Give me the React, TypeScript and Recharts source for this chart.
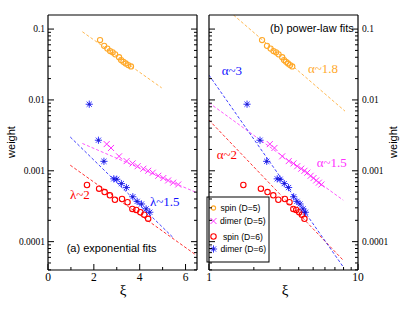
import { ComposedChart, Scatter, Line, XAxis, YAxis } from "recharts";

// weight vs correlation length
const spinD5 = [
  { x: 2.27, y: 0.07 },
  { x: 2.45, y: 0.058 },
  { x: 2.59, y: 0.053 },
  { x: 2.71, y: 0.049 },
  { x: 2.82, y: 0.047 },
  { x: 2.93, y: 0.044 },
  { x: 3.1, y: 0.04 },
  { x: 3.19, y: 0.0365 },
  { x: 3.29, y: 0.0345 },
  { x: 3.39, y: 0.0327 },
  { x: 3.5, y: 0.031 },
  { x: 3.62, y: 0.0297 },
];

const dimerD5 = [
  { x: 2.56, y: 0.00238 },
  { x: 2.75, y: 0.0021 },
  { x: 3.1, y: 0.0016 },
  { x: 3.43, y: 0.00137 },
  { x: 3.69, y: 0.00127 },
  { x: 3.91, y: 0.00116 },
  { x: 4.16, y: 0.00107 },
  { x: 4.37, y: 0.001 },
  { x: 4.57, y: 0.00094 },
  { x: 4.81, y: 0.00085 },
  { x: 5.03, y: 0.00079 },
  { x: 5.24, y: 0.00073 },
  { x: 5.46, y: 0.00068 },
  { x: 5.68, y: 0.00064 },
];

const spinD6 = [
  { x: 1.7, y: 0.00063 },
  { x: 2.23, y: 0.00056 },
  { x: 2.47, y: 0.0005 },
  { x: 2.7, y: 0.00045 },
  { x: 2.92, y: 0.00039 },
  { x: 3.23, y: 0.0004 },
  { x: 3.47, y: 0.00036 },
  { x: 3.68, y: 0.00029 },
  { x: 3.85, y: 0.00028 },
  { x: 4.03, y: 0.00026 },
  { x: 4.2, y: 0.00024 },
  { x: 4.37, y: 0.00021 },
];

const dimerD6 = [
  { x: 1.8, y: 0.0087 },
  { x: 2.2, y: 0.0027 },
  { x: 2.44, y: 0.00136 },
  { x: 2.87, y: 0.00077 },
  { x: 3.0, y: 0.00076 },
  { x: 3.2, y: 0.00066 },
  { x: 3.42, y: 0.00058 },
  { x: 3.7, y: 0.00043 },
  { x: 3.89, y: 0.00037 },
  { x: 4.08, y: 0.00034 },
  { x: 4.28, y: 0.00029 },
  { x: 4.44, y: 0.00026 },
];

// fit lines, end points only
const expFitSpinD5 = [{ x: 1.5, y: 0.0916 }, { x: 4.96, y: 0.0148 }];
const expFitDimerD5 = [{ x: 1.5, y: 0.00243 }, { x: 6.43, y: 0.0005 }];
const expFitSpinD6 = [{ x: 0.97, y: 0.0012 }, { x: 6.48, y: 0.000064 }];
const expFitDimerD6 = [{ x: 0.97, y: 0.003 }, { x: 5.46, y: 0.000114 }];

const powFitSpinD5 = [{ x: 1.46, y: 0.158 }, { x: 8.18, y: 0.00695 }];
const powFitDimerD5 = [{ x: 1.0, y: 0.0091 }, { x: 7.96, y: 0.000385 }];
const powFitSpinD6 = [{ x: 1.0, y: 0.00519 }, { x: 7.96, y: 0.0000546 }];
const powFitDimerD6 = [{ x: 1.0, y: 0.0224 }, { x: 7.96, y: 0.000044 }];

const Y_DOMAIN = [0.0000398, 0.158];
const Y_MAJOR = [0.0001, 0.001, 0.01, 0.1];
const Y_MAJOR_LABELS = ["0.0001", "0.001", "0.01", "0.1"];
const Y_TICKS = [0.00001, 0.0001, 0.001, 0.01, 0.1]
  .flatMap((d) => [1, 2, 3, 4, 5, 6, 7, 8, 9].map((m) => d * m))
  .filter((v) => v >= Y_DOMAIN[0] && v <= Y_DOMAIN[1]);

const XA_DOMAIN = [0, 6.5];
const XA_TICKS = [0, 1, 2, 3, 4, 5, 6];
const XA_LABELED = [0, 2, 4, 6];

const XB_DOMAIN = [1, 10];
const XB_TICKS = [1, 2, 3, 4, 5, 6, 7, 8, 9, 10];
const XB_LABELED = [1, 10];

const ORANGE = "#FFA828";
const MAGENTA = "#FF30FF";
const RED = "#FF0000";
const BLUE = "#1010FF";

const SERIF = "Liberation Serif";
const SANS = "Liberation Sans";

// frame edges in each chart's own svg coordinates
const TOP = 15;
const BOTTOM = 270;

const isDecade = (v: number) =>
  Math.abs(Math.log10(v) - Math.round(Math.log10(v))) < 1e-6;

function yTick(edge: number, side: "left" | "right", showLabel: boolean) {
  return (props: any) => {
    const v = props.payload.value;
    const y = props.y;
    const major = isDecade(v);
    const len = major ? 6 : 3;
    const dir = side === "left" ? 1 : -1;
    const idx = Y_MAJOR.findIndex((m) => Math.abs(m - v) / m < 1e-6);
    return (
      <g>
        <line x1={edge} x2={edge + dir * len} y1={y} y2={y} stroke="#000" strokeWidth={1} />
        {showLabel && idx >= 0 && (
          <text
            x={side === "left" ? edge - 3 : edge + 4}
            y={y}
            dy="0.35em"
            textAnchor={side === "left" ? "end" : "start"}
            style={{ fontFamily: SERIF, fontSize: 9.5 }}
            fill="#000"
          >
            {Y_MAJOR_LABELS[idx]}
          </text>
        )}
      </g>
    );
  };
}

function xTick(edge: number, side: "top" | "bottom", labeled: number[] | null, majors: number[]) {
  return (props: any) => {
    const v = props.payload.value;
    const x = props.x;
    const len = majors.includes(v) ? 6 : 3;
    const dir = side === "bottom" ? -1 : 1;
    return (
      <g>
        <line x1={x} x2={x} y1={edge} y2={edge + dir * len} stroke="#000" strokeWidth={1} />
        {labeled && labeled.includes(v) && (
          <text x={x} y={edge + 11} textAnchor="middle" style={{ fontFamily: SERIF, fontSize: 11.5 }} fill="#000">
            {v}
          </text>
        )}
      </g>
    );
  };
}

const openCircle = (color: string, r: number) => (p: any) =>
  <circle cx={p.cx} cy={p.cy} r={r} fill="none" stroke={color} strokeWidth={1.1} />;

const cross = (color: string, s: number) => (p: any) => (
  <g stroke={color} strokeWidth={1}>
    <line x1={p.cx - s} y1={p.cy - s} x2={p.cx + s} y2={p.cy + s} />
    <line x1={p.cx - s} y1={p.cy + s} x2={p.cx + s} y2={p.cy - s} />
  </g>
);

const star = (color: string, s: number) => (p: any) => {
  const d = s * 0.72;
  return (
    <g stroke={color} strokeWidth={1} opacity={0.85}>
      <line x1={p.cx - s} y1={p.cy} x2={p.cx + s} y2={p.cy} />
      <line x1={p.cx} y1={p.cy - s} x2={p.cx} y2={p.cy + s} />
      <line x1={p.cx - d} y1={p.cy - d} x2={p.cx + d} y2={p.cy + d} />
      <line x1={p.cx - d} y1={p.cy + d} x2={p.cx + d} y2={p.cy - d} />
      <circle cx={p.cx} cy={p.cy} r={1.3} fill="#0000C0" stroke="none" />
    </g>
  );
};

const SERIES = [
  { name: "spin (D=5)", data: spinD5, color: ORANGE, shape: openCircle(ORANGE, 2.6), legend: openCircle(ORANGE, 2.1) },
  { name: "dimer (D=5)", data: dimerD5, color: MAGENTA, shape: cross(MAGENTA, 3), legend: cross(MAGENTA, 3) },
  { name: "spin (D=6)", data: spinD6, color: RED, shape: openCircle(RED, 2.7), legend: openCircle(RED, 2.7) },
  { name: "dimer (D=6)", data: dimerD6, color: BLUE, shape: star(BLUE, 3.6), legend: star(BLUE, 3.6) },
];

const EXP_FITS = [expFitSpinD5, expFitDimerD5, expFitSpinD6, expFitDimerD6];
const POW_FITS = [powFitSpinD5, powFitDimerD5, powFitSpinD6, powFitDimerD6];

function fitLines(fits: { x: number; y: number }[][]) {
  return fits.map((d, i) => (
    <Line
      key={"fit" + i}
      xAxisId="b"
      yAxisId="l"
      data={d}
      dataKey="y"
      type="linear"
      stroke={SERIES[i].color}
      strokeWidth={1}
      strokeOpacity={0.8}
      strokeDasharray="3 2"
      dot={false}
      activeDot={false}
      isAnimationActive={false}
    />
  ));
}

function points() {
  return SERIES.map((s) => (
    <Scatter
      key={s.name}
      name={s.name}
      xAxisId="b"
      yAxisId="l"
      data={s.data}
      shape={s.shape}
      isAnimationActive={false}
    />
  ));
}

function Greek({ x, y, color, children }: { x: number; y: number; color: string; children: string }) {
  return (
    <text x={x} y={y} style={{ fontFamily: SERIF, fontSize: 13 }} fill={color}>
      {children}
    </text>
  );
}

function WeightLabel({ x }: { x: number }) {
  return (
    <text x={x} y={142} transform={`rotate(-90 ${x} 142)`} textAnchor="middle" style={{ fontFamily: SANS, fontSize: 11 }} fill="#000">
      weight
    </text>
  );
}

function XiLabel({ x }: { x: number }) {
  return (
    <text x={x} y={290} textAnchor="middle" dominantBaseline="central" style={{ fontFamily: SERIF, fontSize: 15 }} fill="#000">
      ξ
    </text>
  );
}

function LegendBox({ x, y }: { x: number; y: number }) {
  const rows = [11, 24, 39.5, 52];
  const textX = [13.5, 13, 16, 13.5];
  return (
    <g>
      <rect x={x} y={y} width={62} height={65} fill="#fff" stroke="#000" strokeWidth={1} />
      {SERIES.map((s, i) => (
        <g key={s.name}>
          {s.legend({ cx: x + 6.5, cy: y + rows[i] })}
          <text x={x + textX[i]} y={y + rows[i]} dy="0.35em" style={{ fontFamily: SANS, fontSize: 8.6 }} fill="#000">
            {s.name}
          </text>
        </g>
      ))}
    </g>
  );
}

function LeftPanel() {
  const L = 48;
  const R = 197;
  return (
    <ComposedChart width={205} height={318} margin={{ top: 0, right: 0, bottom: 0, left: 0 }}>
      <XAxis
        xAxisId="b"
        orientation="bottom"
        type="number"
        dataKey="x"
        domain={XA_DOMAIN}
        ticks={XA_TICKS}
        interval={0}
        allowDataOverflow
        height={48}
        tickLine={false}
        axisLine={{ stroke: "#000", strokeWidth: 1.2 }}
        tick={xTick(BOTTOM, "bottom", XA_LABELED, XA_LABELED)}
      />
      <XAxis
        xAxisId="t"
        orientation="top"
        type="number"
        domain={XA_DOMAIN}
        ticks={XA_TICKS}
        interval={0}
        allowDataOverflow
        height={15}
        tickLine={false}
        axisLine={{ stroke: "#000", strokeWidth: 1.2 }}
        tick={xTick(TOP, "top", null, XA_LABELED)}
      />
      <YAxis
        yAxisId="l"
        orientation="left"
        type="number"
        dataKey="y"
        scale="log"
        domain={Y_DOMAIN}
        ticks={Y_TICKS}
        interval={0}
        allowDataOverflow
        width={L}
        tickLine={false}
        axisLine={{ stroke: "#000", strokeWidth: 1.2 }}
        tick={yTick(L, "left", true)}
      />
      <YAxis
        yAxisId="r"
        orientation="right"
        type="number"
        scale="log"
        domain={Y_DOMAIN}
        ticks={Y_TICKS}
        interval={0}
        allowDataOverflow
        width={205 - R}
        tickLine={false}
        axisLine={{ stroke: "#000", strokeWidth: 1.2 }}
        tick={yTick(R, "right", false)}
      />
      {fitLines(EXP_FITS)}
      {points()}
      <text x={66.7} y={252} style={{ fontFamily: SANS, fontSize: 11 }} fill="#000">
        (a) exponential fits
      </text>
      <Greek x={70} y={199} color={RED}>λ~2</Greek>
      <Greek x={150} y={206} color={BLUE}>λ~1.5</Greek>
      <WeightLabel x={15} />
      <XiLabel x={123} />
    </ComposedChart>
  );
}

function RightPanel() {
  const L = 4;
  const R = 153;
  return (
    <ComposedChart width={206} height={318} margin={{ top: 0, right: 0, bottom: 0, left: 0 }}>
      <XAxis
        xAxisId="b"
        orientation="bottom"
        type="number"
        dataKey="x"
        scale="log"
        domain={XB_DOMAIN}
        ticks={XB_TICKS}
        interval={0}
        allowDataOverflow
        height={48}
        tickLine={false}
        axisLine={{ stroke: "#000", strokeWidth: 1.2 }}
        tick={xTick(BOTTOM, "bottom", XB_LABELED, XB_LABELED)}
      />
      <XAxis
        xAxisId="t"
        orientation="top"
        type="number"
        scale="log"
        domain={XB_DOMAIN}
        ticks={XB_TICKS}
        interval={0}
        allowDataOverflow
        height={15}
        tickLine={false}
        axisLine={{ stroke: "#000", strokeWidth: 1.2 }}
        tick={xTick(TOP, "top", null, XB_LABELED)}
      />
      <YAxis
        yAxisId="l"
        orientation="left"
        type="number"
        dataKey="y"
        scale="log"
        domain={Y_DOMAIN}
        ticks={Y_TICKS}
        interval={0}
        allowDataOverflow
        width={L}
        tickLine={false}
        axisLine={{ stroke: "#000", strokeWidth: 1.2 }}
        tick={yTick(L, "left", false)}
      />
      <YAxis
        yAxisId="r"
        orientation="right"
        type="number"
        scale="log"
        domain={Y_DOMAIN}
        ticks={Y_TICKS}
        interval={0}
        allowDataOverflow
        width={206 - R}
        tickLine={false}
        axisLine={{ stroke: "#000", strokeWidth: 1.2 }}
        tick={yTick(R, "right", true)}
      />
      {fitLines(POW_FITS)}
      {points()}
      <text x={65} y={32} style={{ fontFamily: SANS, fontSize: 11 }} fill="#000">
        (b) power-law fits
      </text>
      <Greek x={103} y={72.5} color={ORANGE}>α~1.8</Greek>
      <Greek x={16.7} y={75} color={BLUE}>α~3</Greek>
      <Greek x={11.7} y={159} color={RED}>α~2</Greek>
      <Greek x={111.7} y={167} color={MAGENTA}>α~1.5</Greek>
      <LegendBox x={2} y={197} />
      <WeightLabel x={192} />
      <XiLabel x={80} />
    </ComposedChart>
  );
}

export default function App() {
  return (
    <div style={{ position: "absolute", left: 0, top: 0, width: 411, height: 318, background: "#fff" }}>
      <div style={{ position: "absolute", left: 0, top: 0 }}>
        <LeftPanel />
      </div>
      <div style={{ position: "absolute", left: 205, top: 0 }}>
        <RightPanel />
      </div>
    </div>
  );
}
